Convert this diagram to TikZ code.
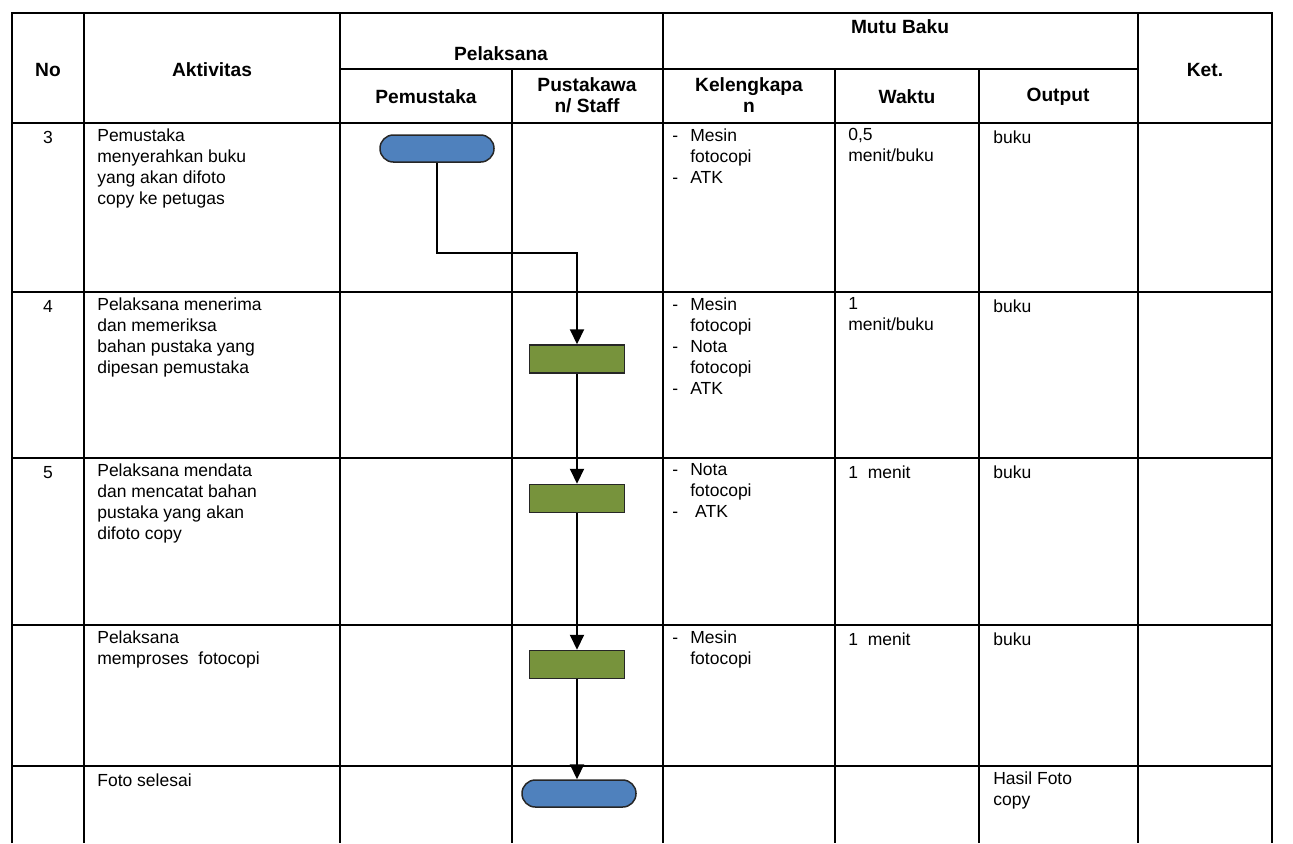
\documentclass[tikz,border=0pt]{standalone}
\usepackage{fontspec}
\setmainfont{Liberation Sans}
\usetikzlibrary{arrows.meta}
\definecolor{termblue}{HTML}{4F81BD}
\definecolor{procgreen}{HTML}{77933C}
% bullet line and its continuation for the equipment column
\newcommand{\itm}{\makebox[10.8pt][l]{-}}
\newcommand{\cnt}{\hspace*{10.8pt}}
\begin{document}
\begin{tikzpicture}[x=0.6pt,y=-0.6pt,
  grid/.style={line width=1.2pt},
  head/.style={font=\fontsize{11.5}{12.4}\selectfont\bfseries, align=center, inner sep=0},
  cell/.style={font=\fontsize{10.5}{12.6}\selectfont, align=left, anchor=north west,
    inner sep=0, execute at begin node=\strut},
  num/.style={font=\fontsize{10.5}{12.6}\selectfont, anchor=base, inner sep=0},
  term/.style={draw=black!85, line width=0.9pt, fill=termblue, rounded corners=8pt,
    minimum width=68.4pt, minimum height=16.2pt, inner sep=0},
  proc/.style={draw=black!85, line width=0.9pt, fill=procgreen,
    minimum width=57pt, minimum height=16.8pt, inner sep=0},
  conn/.style={line width=1.2pt},
  flow/.style={conn, -{Triangle[length=9pt,width=8.4pt]}}
]
\useasboundingbox (0,0) rectangle (1293,843);

% table rules
\draw[grid] (12,843) -- (12,13) -- (1272,13) -- (1272,843);
\foreach \x in {84,340,663,1138} \draw[grid] (\x,13) -- (\x,843);
\foreach \x in {512,835,979} \draw[grid] (\x,69) -- (\x,843);
\draw[grid] (340,69) -- (1138,69);
\foreach \y in {123,292,458,625,766} \draw[grid] (12,\y) -- (1272,\y);

% header
\node[head] (hno)  at (48,70)  {No};
\node[head] (hakt) at (212,70) {Aktivitas};
\node[head] (hpel) at (501,54) {Pelaksana};
\node[head] (hmut) at (900,27) {Mutu Baku};
\node[head] (hket) at (1205,70) {Ket.};
\node[head] (hpem) at (426,97) {Pemustaka};
\node[head] (hpus) at (587,95) {Pustakawa\\n/ Staff};
\node[head] (hkel) at (749,95) {Kelengkapa\\n};
\node[head] (hwak) at (907,97) {Waktu};
\node[head] (hout) at (1058,97) {Output};

% row 3
\node[num]  (n3) at (48,143) {3};
\node[cell] (a3) at (97,128.3) {Pemustaka\\menyerahkan buku\\yang akan difoto\\copy ke petugas};
\node[cell] (k3) at (672,128.3) {\itm Mesin\\\cnt fotocopi\\\itm ATK};
\node[cell] (w3) at (848,128.3) {0,5\\menit/buku};
\node[cell] (o3) at (993,128.3) {buku};

% row 4
\node[num]  (n4) at (48,312) {4};
\node[cell] (a4) at (97,297.3) {Pelaksana menerima\\dan memeriksa\\bahan pustaka yang\\dipesan pemustaka};
\node[cell] (k4) at (672,297.3) {\itm Mesin\\\cnt fotocopi\\\itm Nota\\\cnt fotocopi\\\itm ATK};
\node[cell] (w4) at (848,297.3) {1\\menit/buku};
\node[cell] (o4) at (993,297.3) {buku};

% row 5
\node[num]  (n5) at (48,478) {5};
\node[cell] (a5) at (97,463.3) {Pelaksana mendata\\dan mencatat bahan\\pustaka yang akan\\difoto copy};
\node[cell] (k5) at (672,463.3) {\itm Nota\\\cnt fotocopi\\\itm\ ATK};
\node[cell] (w5) at (848,463.3) {1\ \ menit};
\node[cell] (o5) at (993,463.3) {buku};

% row 6
\node[cell] (a6) at (97,630.3) {Pelaksana\\memproses\ \ fotocopi};
\node[cell] (k6) at (672,630.3) {\itm Mesin\\\cnt fotocopi};
\node[cell] (w6) at (848,630.3) {1\ \ menit};
\node[cell] (o6) at (993,630.3) {buku};

% row 7
\node[cell] (a7) at (97,771.3) {Foto selesai};
\node[cell] (o7) at (993,771.3) {Hasil Foto\\copy};

% flow symbols
\node[term] (t1) at (437,148.5) {};
\node[proc] (b1) at (577,359) {};
\node[proc] (b2) at (577,498.5) {};
\node[proc] (b3) at (577,664.5) {};
\node[term] (t2) at (579,793.5) {};

% connectors
\coordinate (bend) at (577,253);
\draw[flow] (t1.south) |- (bend) -- (b1.north);
\draw[flow] (b1.south) -- (b2.north);
\draw[flow] (b2.south) -- (b3.north);
\draw[flow] (b3.south) -- (b3.south |- t2.north);
\end{tikzpicture}
\end{document}
